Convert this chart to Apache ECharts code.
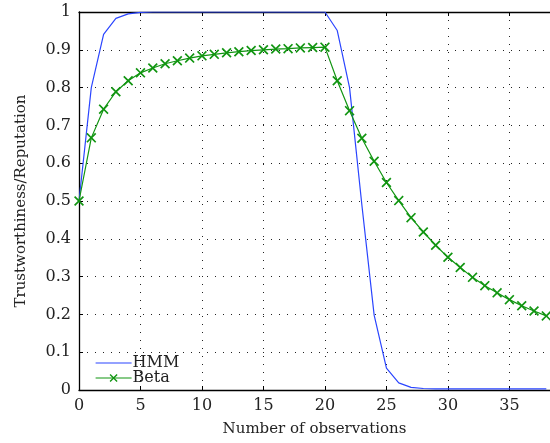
<!DOCTYPE html>
<html>
<head>
<meta charset="utf-8">
<script src="https://cdn.jsdelivr.net/npm/echarts@6/dist/echarts.min.js"></script>
<style>
html,body{margin:0;padding:0;background:#fff;}
#chart{width:550px;height:443px;}
</style>
</head>
<body>
<div id="chart"></div>
<script>
var observations = [0,1,2,3,4,5,6,7,8,9,10,11,12,13,14,15,16,17,18,19,20,21,22,23,24,25,26,27,28,29,30,31,32,33,34,35,36,37,38];
var hmmValues = [0.5,0.80,0.941,0.983,0.995,0.999,1,1,1,1,1,1,1,1,1,1,1,1,1,1,1,0.951,0.80,0.49,0.198,0.058,0.019,0.007,0.004,0.003,0.003,0.003,0.003,0.003,0.003,0.003,0.003,0.003,0.003];
var betaValues = [0.5,0.667,0.743,0.789,0.818,0.839,0.852,0.863,0.871,0.878,0.884,0.888,0.892,0.895,0.898,0.900,0.902,0.903,0.905,0.906,0.907,0.818,0.739,0.666,0.605,0.549,0.501,0.456,0.418,0.383,0.351,0.324,0.298,0.276,0.257,0.239,0.223,0.209,0.196];
var seriesNames = ['HMM', 'Beta'];
var xAxisTitle = 'Number of observations';
var yAxisTitle = 'Trustworthiness/Reputation';

function pairs(xs, ys){ return xs.map(function(x,i){ return [x, ys[i]]; }); }

var FONT = 'DejaVu Serif';
var crossPath = 'path://M0,1.2L1.2,0L5,3.8L8.8,0L10,1.2L6.2,5L10,8.8L8.8,10L5,6.2L1.2,10L0,8.8L3.8,5Z';
var lineIcon = 'path://M0,4.4L36,4.4L36,5.6L0,5.6Z';
var gridLine = {show:true, lineStyle:{color:'#222', type:[1,7], width:1}};
var BLUE = '#2a45ff', GREEN = '#119511';

var chart = echarts.init(document.getElementById('chart'), null, {renderer:'canvas'});
chart.setOption({
  animation:false,
  backgroundColor:'#fff',
  grid:{left:79, top:12, right:0, bottom:53, containLabel:false},
  legend:{
    orient:'vertical', left:90, top:350, itemWidth:36, itemHeight:10, itemGap:-1,
    lineStyle:{width:1.2},
    textStyle:{fontFamily:FONT, fontSize:16, color:'#222', padding:[0,0,0,-4]},
    data:[{name:seriesNames[0], icon:lineIcon}, {name:seriesNames[1], lineStyle:{width:1.2}}]
  },
  xAxis:[{
    type:'value', min:0, max:38.3, interval:5, position:'bottom',
    name:xAxisTitle, nameLocation:'middle', nameGap:32,
    nameTextStyle:{fontFamily:FONT, fontSize:15, color:'#222'},
    axisLine:{show:true, lineStyle:{color:'#000', width:1.3}},
    axisTick:{show:true, inside:true, length:4, lineStyle:{color:'#000'}},
    axisLabel:{fontFamily:FONT, fontSize:16, color:'#222', margin:8, showMaxLabel:false,
      formatter:function(v){ return (v % 5 === 0) ? String(v) : ''; }},
    splitLine:gridLine
  },{
    type:'value', min:0, max:38.3, interval:5, position:'top',
    axisLine:{show:true, lineStyle:{color:'#000', width:1.3}},
    axisTick:{show:true, inside:true, length:4, lineStyle:{color:'#000'}},
    axisLabel:{show:false}, splitLine:{show:false}
  }],
  yAxis:{
    type:'value', min:0, max:1, interval:0.1,
    name:yAxisTitle, nameLocation:'middle', nameGap:50, nameRotate:90,
    nameTextStyle:{fontFamily:FONT, fontSize:15, color:'#222'},
    axisLine:{show:true, lineStyle:{color:'#000', width:1.3}},
    axisTick:{show:true, inside:true, length:4, lineStyle:{color:'#000'}},
    axisLabel:{fontFamily:FONT, fontSize:16, color:'#222', margin:8,
      formatter:function(v){ return String(Math.round(v*10)/10); }},
    splitLine:gridLine
  },
  series:[{
    name:seriesNames[0], type:'line', data:pairs(observations, hmmValues),
    symbol:'none', lineStyle:{color:BLUE, width:1.2}, itemStyle:{color:BLUE}, z:3
  },{
    name:seriesNames[1], type:'line', data:pairs(observations, betaValues),
    symbol:crossPath, symbolSize:10, showAllSymbol:true,
    lineStyle:{color:GREEN, width:1.2}, itemStyle:{color:GREEN}, z:4
  }]
});
</script>
</body>
</html>
